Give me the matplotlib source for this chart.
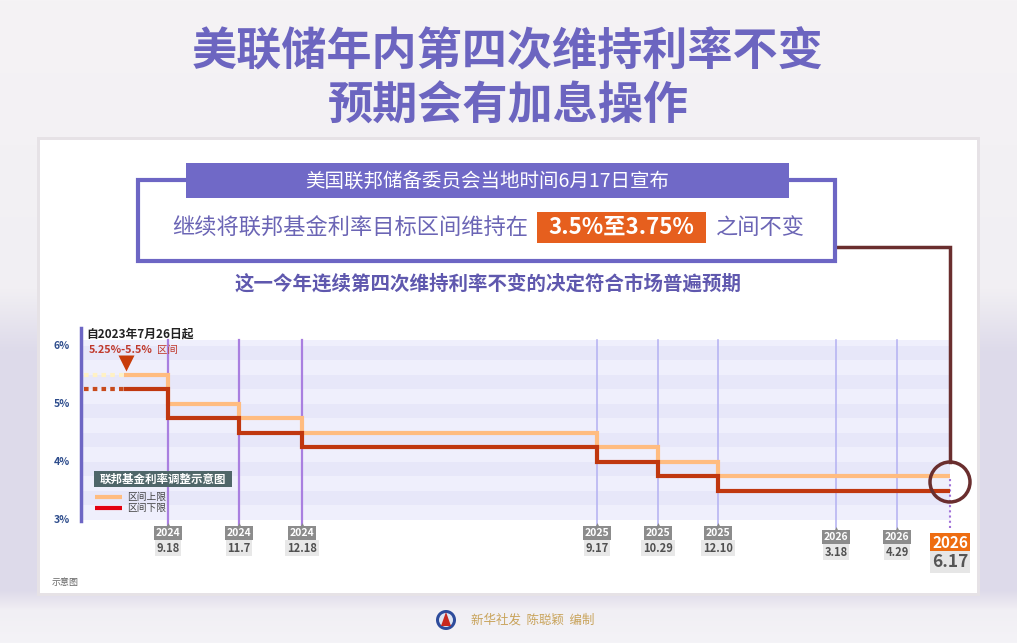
import numpy as np
import matplotlib
matplotlib.use('Agg')
import matplotlib.pyplot as plt
from matplotlib.patches import Rectangle, Circle, Polygon
from matplotlib.colors import to_rgb
from matplotlib.transforms import ScaledTranslation

plt.rcParams['font.family'] = ['Noto Sans CJK SC', 'DejaVu Sans']

# ---------------- data ----------------
title_lines = ['美联储年内第四次维持利率不变', '预期会有加息操作']
banner_text = '美国联邦储备委员会当地时间6月17日宣布'
line2_left = '继续将联邦基金利率目标区间维持在'
line2_highlight = '3.5%至3.75%'
line2_right = '之间不变'
subtitle = '这一今年连续第四次维持利率不变的决定符合市场普遍预期'
start_note = '自2023年7月26日起'
start_range = '5.25%-5.5%'
start_range_suffix = '区间'
legend_title = '联邦基金利率调整示意图'
legend_labels = ['区间上限', '区间下限']
footer = '新华社发  陈聪颖  编制'
note = '示意图'

y_ticks = [3, 4, 5, 6]
y_tick_labels = ['3%', '4%', '5%', '6%']

# schematic timeline (not to scale)
axis_start = 82
start_pos = 126
event_years = ['2024', '2024', '2024', '2025', '2025', '2025', '2026', '2026', '2026']
event_dates = ['9.18', '11.7', '12.18', '9.17', '10.29', '12.10', '3.18', '4.29', '6.17']
event_pos = [168, 239, 302, 597, 658, 718, 836, 897, 950]
start_upper = 5.5
start_lower = 5.25
upper_after = [5.0, 4.75, 4.5, 4.25, 4.0, 3.75, 3.75, 3.75, 3.75]
lower_after = [4.75, 4.5, 4.25, 4.0, 3.75, 3.5, 3.5, 3.5, 3.5]

# ---------------- colours ----------------
PURPLE = '#6D66C4'
UPPER = '#FFBC80'
LOWER = '#C0370F'
BROWN = '#6A2E2E'

W, H = 1017, 643
fig = plt.figure(figsize=(W / 100, H / 100), dpi=100)

# background
bg = fig.add_axes([0, 0, 1, 1], zorder=0)
bg.set_xlim(0, W); bg.set_ylim(H, 0); bg.axis('off')
stops = [(0, '#F5F3F5'), (0.45, '#F1EFF3'), (0.55, '#DDDAEA'), (0.92, '#DEDBEA'),
         (0.95, '#F1EFF4'), (1, '#F4F3F7')]
ys = np.linspace(0, 1, H)
cols = np.array([to_rgb(c) for _, c in stops]); pos = [p for p, _ in stops]
grad = np.stack([np.interp(ys, pos, cols[:, i]) for i in range(3)], axis=1)
img = np.repeat(grad[:, None, :], W, axis=1)
bg.imshow(img, extent=[0, W, H, 0], aspect='auto', zorder=0)
bg.add_patch(Rectangle((37, 137), 943, 459, facecolor='#E6E2E6', edgecolor='none', zorder=1))
bg.add_patch(Rectangle((40, 140), 937, 453, facecolor='white', edgecolor='none', zorder=2))

# chart axes
ax = fig.add_axes([axis_start / W, (H - 520) / H, (950 - axis_start) / W, 180 / H], zorder=1)
ax.set_xlim(axis_start, 950); ax.set_ylim(3.0, 6.1)
ax.axis('off')
band_edges = np.arange(3.0, 6.1, 0.25)
for k, lo in enumerate(band_edges):
    ax.axhspan(lo, min(lo + 0.25, 6.1), color='#EFEFFC' if k % 2 == 0 else '#E7E7F9', lw=0, zorder=0)

# vertical event lines
for i, (p, yr) in enumerate(zip(event_pos, event_years)):
    if i == len(event_pos) - 1:
        ax.plot([p, p], [2.87, 3.7], color='#A070D8', lw=1.5, ls=(0, (1, 1.5)), clip_on=False, zorder=2)
    elif yr == '2024':
        ax.plot([p, p], [2.9, 6.1], color='#A97FE0', lw=1.6, clip_on=False, zorder=1)
    else:
        ax.plot([p, p], [2.87 if yr == '2026' else 2.9, 6.1], color='#B8B5F2', lw=1.2, clip_on=False, zorder=1)

# step lines
ux = [start_pos] + event_pos
ax.plot(ux, [start_upper] + upper_after, drawstyle='steps-post', color=UPPER, lw=3, zorder=3,
        solid_joinstyle='miter')
ax.plot(ux, [start_lower] + lower_after, drawstyle='steps-post', color=LOWER, lw=3, zorder=4,
        solid_joinstyle='miter')
ax.plot([axis_start + 2, start_pos], [start_upper, start_upper], color='#FFF1C4', lw=3,
        ls=(0, (1.1, 1.0)), zorder=3)
ax.plot([axis_start + 2, start_pos], [start_lower, start_lower], color='#C84A1C', lw=3,
        ls=(0, (1.1, 1.0)), zorder=4)
tri_off = ScaledTranslation(0, 12 / 100, fig.dpi_scale_trans)
ax.plot([start_pos], [start_upper], marker='v', ms=11, color='#C83C0A', mec='none',
        transform=ax.transData + tri_off, clip_on=False, zorder=5)

# y tick labels
for v, lab in zip(y_ticks, y_tick_labels):
    ax.annotate(lab, xy=(0, v), xycoords=('axes fraction', 'data'), xytext=(-20, 0),
                textcoords='offset pixels', ha='center', va='center', fontsize=7.5,
                fontweight='bold', color='#2D4C8C')

# x tick labels
for i, (p, yr, d) in enumerate(zip(event_pos, event_years, event_dates)):
    last = i == len(event_pos) - 1
    if last:
        ax.annotate(yr, xy=(p, 3.0), xytext=(0, -23), textcoords='offset pixels', ha='center',
                    va='center', fontsize=11, fontweight='bold', color='white', annotation_clip=False,
                    bbox=dict(boxstyle='square,pad=0.12', fc='#EE6D12', ec='none'))
        ax.annotate(d, xy=(p, 3.0), xytext=(0, -42), textcoords='offset pixels', ha='center',
                    va='center', fontsize=12.5, fontweight='bold', color='#555555', annotation_clip=False,
                    bbox=dict(boxstyle='square,pad=0.12', fc='#E6E6E6', ec='none'))
        continue
    dy = -4 if yr == '2026' else 0
    ax.plot([p], [3.0], marker='^', ms=3.5, color='#8A8A8A', mec='none', clip_on=False,
            transform=ax.transData + ScaledTranslation(0, (dy - 5) / 100, fig.dpi_scale_trans), zorder=5)
    ax.annotate(yr, xy=(p, 3.0), xytext=(0, -13 + dy), textcoords='offset pixels', ha='center',
                va='center', fontsize=7.5, fontweight='bold', color='white', annotation_clip=False,
                bbox=dict(boxstyle='square,pad=0.15', fc='#8C8C8C', ec='none'))
    ax.annotate(d, xy=(p, 3.0), xytext=(0, -28 + dy), textcoords='offset pixels', ha='center',
                va='center', fontsize=8, fontweight='bold', color='#505050', annotation_clip=False,
                bbox=dict(boxstyle='square,pad=0.15', fc='#E8E8E8', ec='none'))

# overlay
ov = fig.add_axes([0, 0, 1, 1], zorder=3)
ov.set_xlim(0, W); ov.set_ylim(H, 0); ov.axis('off')

# titles
ov.text(508, 52, title_lines[0], ha='center', va='center', fontsize=32.5, fontweight='bold', color='#6C65C0')
ov.text(508, 107, title_lines[1], ha='center', va='center', fontsize=32.5, fontweight='bold', color='#6C65C0')

# header box
ov.add_patch(Rectangle((138, 180), 697, 81, facecolor='white', edgecolor=PURPLE, lw=3, zorder=2))
ov.add_patch(Rectangle((186, 163), 603, 35, facecolor='#7069C7', edgecolor='none', zorder=3))
ov.text(487, 181, banner_text, ha='center', va='center', fontsize=14, color='white', zorder=4)
ov.text(528, 228, line2_left, ha='right', va='center', fontsize=16, color='#6B65B5', zorder=4)
ov.add_patch(Rectangle((537, 212), 169, 31, facecolor='#E65F1E', edgecolor='none', zorder=3))
ov.text(621, 227, line2_highlight, ha='center', va='center', fontsize=16, fontweight='bold',
        color='white', zorder=4)
ov.text(716, 228, line2_right, ha='left', va='center', fontsize=16, color='#6B65B5', zorder=4)
ov.text(488, 284, subtitle, ha='center', va='center', fontsize=14, fontweight='bold', color='#5F58AE')

# connector
ov.plot([836, 950, 950], [247, 247, 462], color=BROWN, lw=2.5, solid_joinstyle='miter', zorder=1)
ov.add_patch(Circle((950, 482), 20, facecolor='none', edgecolor=BROWN, lw=2.5, zorder=5))

# y axis line
ov.plot([81, 81], [328, 521], color=PURPLE, lw=2.5)

# start notes
ov.text(86, 334, start_note, ha='left', va='center', fontsize=8.5, fontweight='bold', color='#222222')
t = ov.text(89, 350, start_range, ha='left', va='center', fontsize=7.8, fontweight='bold', color='#C0392B')
ov.annotate(start_range_suffix, xy=(1, 0.5), xycoords=t, xytext=(4, 0), textcoords='offset pixels',
            ha='left', va='center', fontsize=7.5, color='#C0392B')

# legend
ov.add_patch(Rectangle((94, 471), 138, 16, facecolor='#4F6669', edgecolor='none'))
ov.text(163, 479, legend_title, ha='center', va='center', fontsize=8.3, fontweight='bold', color='white')
ov.plot([95, 122], [497, 497], color=UPPER, lw=3, solid_capstyle='butt')
ov.plot([95, 122], [508, 508], color='#E3000F', lw=3, solid_capstyle='butt')
ov.text(127, 497, legend_labels[0], ha='left', va='center', fontsize=7, color='#444444')
ov.text(127, 508, legend_labels[1], ha='left', va='center', fontsize=7, color='#444444')

# note
ov.text(52, 582, note, ha='left', va='center', fontsize=6.5, color='#666666')

# footer
ov.add_patch(Circle((446, 620), 10, facecolor='#2E4C9C', edgecolor='none'))
ov.add_patch(Circle((446, 620), 7, facecolor='#DDE4F2', edgecolor='none'))
ov.add_patch(Polygon([[441, 626], [446, 612], [451, 626]], closed=True, facecolor='#C8281E', edgecolor='none'))
ov.text(471, 620, footer, ha='left', va='center', fontsize=9, color='#C9A45C')

fig.savefig('out.png', dpi=100)
